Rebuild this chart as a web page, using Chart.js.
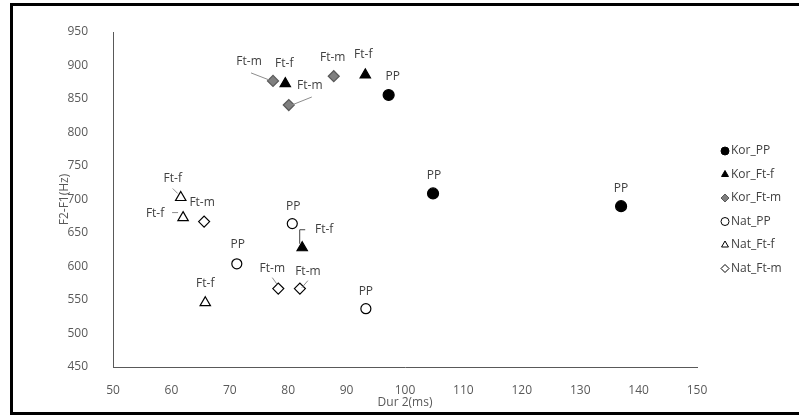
<!DOCTYPE html>
<html>
<head>
<meta charset="utf-8">
<script src="https://cdn.jsdelivr.net/npm/chart.js@4/dist/chart.umd.min.js"></script>
<style>
  html, body { margin: 0; padding: 0; background: #fff; }
  #wrap { position: relative; width: 799px; height: 416px; }
</style>
</head>
<body>
<div id="wrap"><canvas id="chart"></canvas></div>
<script>
// series values: [Dur 2 (ms), F2-F1 (Hz)]
var korPP  = [[97.2, 856], [104.8, 709], [137, 690]];
var korFtF = [[79.5, 873], [93.2, 886], [82.4, 628]];
var korFtM = [[77.4, 877], [80.1, 841], [87.8, 884]];
var natPP  = [[80.7, 664], [71.2, 604], [93.3, 537]];
var natFtF = [[61.6, 703], [62, 673], [65.8, 546]];
var natFtM = [[65.6, 667], [78.3, 567], [82, 567]];

var seriesNames = ['Kor_PP', 'Kor_Ft-f', 'Kor_Ft-m', 'Nat_PP', 'Nat_Ft-f', 'Nat_Ft-m'];
var pointTags   = ['PP', 'Ft-f', 'Ft-m', 'PP', 'Ft-f', 'Ft-m'];

var xMin = 50, xMax = 150, xStep = 10;
var yMin = 450, yMax = 950, yStep = 50;

function toPoints(arr) {
  return arr.map(function(p) { return { x: p[0], y: p[1] }; });
}

var FONT = '"Open Sans", sans-serif';

// label placement: offset of text centre from the point, plus optional leader line [x1,y1,x2,y2] (relative)
var labelPlacement = [
  [ {dx: 4, dy: -18}, {dx: 1, dy: -18}, {dx: 0, dy: -18} ],
  [ {dx: -1, dy: -20}, {dx: -2, dy: -20}, {dx: 22, dy: -18, elbow: true} ],
  [ {dx: -24, dy: -19, line: [-22, -8, -4, -1]}, {dx: 21, dy: -19, line: [23, -8, 3, 0]}, {dx: -1, dy: -19} ],
  [ {dx: 1, dy: -17}, {dx: 1, dy: -19}, {dx: 0, dy: -17} ],
  [ {dx: -8, dy: -19, line: [-8, -9, -3, -4]}, {dx: -28, dy: -4, line: [-11, -5, -5, -5]}, {dx: 0, dy: -19} ],
  [ {dx: -2, dy: -19}, {dx: -6, dy: -20, line: [-6, -11, -1, -4]}, {dx: 8, dy: -17, line: [8, -8, 2, -1]} ]
];

var pointLabels = {
  id: 'pointLabels',
  afterDatasetsDraw: function(chart) {
    var ctx = chart.ctx;
    ctx.save();
    ctx.font = '12px ' + FONT;
    ctx.textAlign = 'center';
    ctx.textBaseline = 'middle';
    chart.data.datasets.forEach(function(ds, i) {
      var meta = chart.getDatasetMeta(i);
      meta.data.forEach(function(el, j) {
        var pl = labelPlacement[i][j];
        var x = el.x, y = el.y;
        ctx.strokeStyle = '#8c8c8c';
        ctx.lineWidth = 1;
        if (pl.line) {
          ctx.beginPath();
          ctx.moveTo(x + pl.line[0], y + pl.line[1]);
          ctx.lineTo(x + pl.line[2], y + pl.line[3]);
          ctx.stroke();
        }
        if (pl.elbow) {
          ctx.strokeStyle = '#404040';
          ctx.beginPath();
          ctx.moveTo(x - 2.5, y - 4);
          ctx.lineTo(x - 2.5, y + pl.dy);
          ctx.lineTo(x + 3, y + pl.dy);
          ctx.stroke();
        }
        ctx.fillStyle = '#404040';
        ctx.fillText(pointTags[i], x + pl.dx, y + pl.dy);
      });
    });
    ctx.restore();
  }
};

// legend on the right, drawn with the datasets' own point styles
var sideLegend = {
  id: 'sideLegend',
  afterDraw: function(chart) {
    var ctx = chart.ctx;
    ctx.save();
    ctx.font = '12px ' + FONT;
    ctx.textAlign = 'left';
    ctx.textBaseline = 'middle';
    chart.data.datasets.forEach(function(ds, i) {
      var y = 151 + i * 23.5;
      ctx.fillStyle = ds.backgroundColor;
      ctx.strokeStyle = ds.borderColor;
      ctx.lineWidth = 1;
      Chart.helpers.drawPoint(ctx, { pointStyle: ds.pointStyle, radius: 4, rotation: 0, borderWidth: 1 }, 725, y);
      ctx.fillStyle = '#404040';
      ctx.fillText(ds.label, 731, y);
    });
    ctx.restore();
  }
};

var frame = {
  id: 'frame',
  afterDraw: function(chart) {
    var ctx = chart.ctx;
    ctx.save();
    ctx.strokeStyle = '#000';
    ctx.lineWidth = 3;
    ctx.beginPath();
    ctx.moveTo(799, 4.5);
    ctx.lineTo(11.5, 4.5);
    ctx.lineTo(11.5, 413.5);
    ctx.lineTo(799, 413.5);
    ctx.stroke();
    ctx.restore();
  }
};

var styles = [
  { pointStyle: 'circle',   radius: 5.5, bg: '#000', border: '#000' },
  { pointStyle: 'triangle', radius: 6,   bg: '#000', border: '#000' },
  { pointStyle: 'rectRot',  radius: 5.5, bg: '#7f7f7f', border: '#595959' },
  { pointStyle: 'circle',   radius: 5,   bg: '#fff', border: '#000' },
  { pointStyle: 'triangle', radius: 6,   bg: '#fff', border: '#000' },
  { pointStyle: 'rectRot',  radius: 5.5, bg: '#fff', border: '#000' }
];

var allSeries = [korPP, korFtF, korFtM, natPP, natFtF, natFtM];

var datasets = allSeries.map(function(arr, i) {
  var s = styles[i];
  return {
    label: seriesNames[i],
    data: toPoints(arr),
    pointStyle: s.pointStyle,
    pointRadius: s.radius,
    pointHoverRadius: s.radius,
    backgroundColor: s.bg,
    borderColor: s.border,
    pointBorderWidth: 1.2
  };
});

var tickFont = { family: FONT, size: 12 };

new Chart(document.getElementById('chart'), {
  type: 'scatter',
  data: { datasets: datasets },
  plugins: [pointLabels, sideLegend, frame],
  options: {
    responsive: true,
    maintainAspectRatio: false,
    animation: false,
    events: [],
    layout: { padding: { left: 12, top: 32, right: 102, bottom: 6 } },
    plugins: {
      tooltip: { enabled: false },
      legend: { display: false }
    },
    scales: {
      x: {
        type: 'linear',
        min: xMin, max: xMax,
        grid: { display: false },
        border: { display: true, color: '#595959', width: 1 },
        ticks: { stepSize: xStep, color: '#595959', font: tickFont, padding: 8 },
        title: { display: true, text: 'Dur 2(ms)', color: '#595959', font: tickFont, padding: { top: 0, bottom: 0 } },
        afterFit: function(s) { s.height = 43; }
      },
      y: {
        type: 'linear',
        min: yMin, max: yMax,
        grid: { display: false },
        border: { display: true, color: '#595959', width: 1 },
        ticks: { stepSize: yStep, color: '#595959', font: tickFont, padding: 17 },
        title: { display: true, text: 'F2-F1(Hz)', color: '#595959', font: tickFont, padding: { top: 45, bottom: 0 } },
        afterFit: function(s) { s.width = 101; }
      }
    }
  }
});
</script>
</body>
</html>
